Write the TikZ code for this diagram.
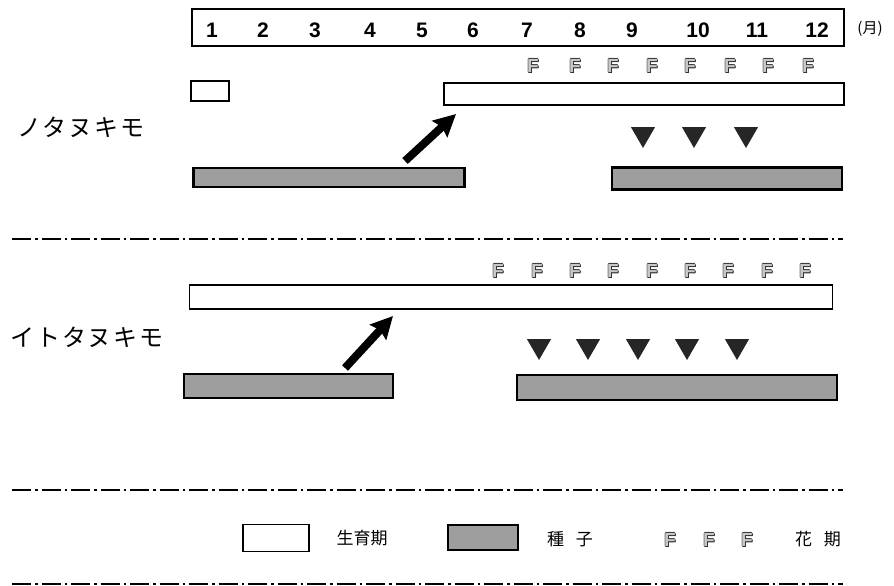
\documentclass[tikz,border=0pt]{standalone}
\usepackage{fontspec}
\setmainfont{Liberation Sans}
\newfontfamily\jpfont{Noto Sans CJK JP}
\newfontfamily\jpspaced[LetterSpace=8]{Noto Sans CJK JP}
\usetikzlibrary{arrows.meta,shapes.geometric}
\newcommand\fcopy[2]{\makebox[0pt][l]{\kern#1\raisebox{#2}{\color{black!80}F}}}
\newcommand\flowerF{\fcopy{0.7pt}{0pt}\fcopy{-0.7pt}{0pt}\fcopy{0pt}{0.7pt}\fcopy{0pt}{-0.7pt}\fcopy{0.9pt}{-0.9pt}{\color{black!22}F}}
\begin{document}
\begin{tikzpicture}[x=1pt,y=-1pt,
  frame/.style={draw=black, line width=1.8pt, fill=white, inner sep=0pt},
  seedbox/.style={draw=black, line width=2.4pt, fill=black!38, inner sep=0pt},
  num/.style={font=\fontsize{21}{21}\selectfont\bfseries, inner sep=0pt},
  flw/.style={font=\fontsize{19}{19}\selectfont\bfseries, inner sep=0pt},
  tri/.style={regular polygon, regular polygon sides=3, shape border rotate=180,
              fill=black!85, draw=none, minimum size=28pt, inner sep=0pt},
  sep/.style={line width=1.6pt, dash pattern=on 19pt off 4pt on 2.5pt off 4pt},
  jplabel/.style={font=\jpspaced\fontsize{24}{24}\selectfont, inner sep=0pt},
  legtext/.style={font=\jpfont\fontsize{17}{17}\selectfont, inner sep=0pt},
  bigarrow/.style={line width=8pt, -{Stealth[length=22pt,width=22pt,inset=3pt]}}]
\useasboundingbox (0,0) rectangle (894,586);

% month header
\node[frame, minimum width=652pt, minimum height=37pt] (months) at (518,27.5) {};
\foreach \x/\m in {212/1,263/2,315/3,370/4,422/5,473/6,527/7,580/8,632/9,698/10,757/11,817/12}
  \node[num] (m\m) at (\x,30) {\m};
\node[font=\jpfont\fontsize{15}{15}\selectfont, inner sep=0pt] (unit) at (870,29) {(月)};

% ノタヌキモ
\node[jplabel] (sp1) at (81,127) {ノタヌキモ};
\node[frame, minimum width=38pt, minimum height=20pt] (g1a) at (210,91) {};
\node[frame, minimum width=400pt, minimum height=22pt] (g1b) at (644,94) {};
\foreach \x [count=\i] in {533,575,613,652,690,730,768,808}
  \node[flw] (fa\i) at (\x,66) {\flowerF};
\node[seedbox, minimum width=271pt, minimum height=19pt] (s1a) at (329,177.5) {};
\node[seedbox, minimum width=230pt, minimum height=22pt] (s1b) at (727,178.5) {};
\foreach \x [count=\i] in {643,694,746}
  \node[tri] (ta\i) at (\x,134) {};
\coordinate (a1s) at (405,161);
\coordinate (a1e) at (456,114);
\draw[bigarrow] (a1s) -- (a1e);

\coordinate (l1a) at (12,239);
\coordinate (l1b) at (843,239);
\draw[sep] (l1a) -- (l1b);

% イトタヌキモ
\node[jplabel] (sp2) at (87,337) {イトタヌキモ};
\foreach \x [count=\i] in {498,537,575,613,652,690,728,767,805}
  \node[flw] (fb\i) at (\x,271) {\flowerF};
\node[frame, minimum width=643pt, minimum height=24pt] (g2) at (511,297) {};
\foreach \x [count=\i] in {539,588,638,687,737}
  \node[tri] (tb\i) at (\x,346) {};
\node[seedbox, minimum width=209pt, minimum height=24pt] (s2a) at (288.5,386) {};
\node[seedbox, minimum width=320pt, minimum height=25pt] (s2b) at (677,387.5) {};
\coordinate (a2s) at (345,368);
\coordinate (a2e) at (393,316);
\draw[bigarrow] (a2s) -- (a2e);

\coordinate (l2a) at (12,490);
\coordinate (l2b) at (843,490);
\draw[sep] (l2a) -- (l2b);

% legend
\node[frame, minimum width=66pt, minimum height=27pt] (lg1) at (276,538) {};
\node[legtext] (lt1) at (362,538) {生育期};
\node[seedbox, minimum width=70pt, minimum height=25pt] (lg2) at (483,537.5) {};
\node[legtext] (lt2) at (570,539) {種\hspace{0.7em}子};
\foreach \x [count=\i] in {670,709,747}
  \node[flw] (fc\i) at (\x,540) {\flowerF};
\node[legtext] (lt3) at (818,539) {花\hspace{0.7em}期};

\coordinate (l3a) at (12,584);
\coordinate (l3b) at (843,584);
\draw[sep] (l3a) -- (l3b);
\end{tikzpicture}
\end{document}
